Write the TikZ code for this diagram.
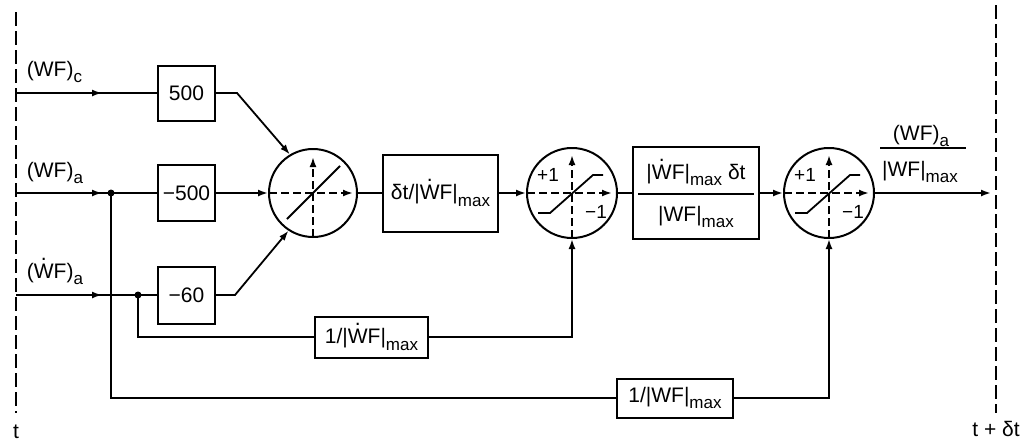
\documentclass[tikz,border=0pt]{standalone}
\usepackage{fontspec}
\setmainfont{Liberation Sans}
\usetikzlibrary{arrows.meta}
\newcommand{\Wd}{{\setbox0\hbox{W}\rlap{\hbox to \wd0{\hss\raisebox{0.85em}{.}\hss}}W}}
\newcommand{\lsub}[1]{\raisebox{-0.3em}{\fontsize{17}{17}\selectfont #1}}
\begin{document}
\begin{tikzpicture}[x=1pt,y=-1pt, font=\fontsize{21}{23}\selectfont,
  line width=1.8pt,
  blk/.style={draw, line width=2pt, inner sep=0pt, align=center},
  sumc/.style={draw, circle, line width=2pt, inner sep=0pt},
  arr/.style={-{Latex[length=10pt,width=7pt]}},
  ax/.style={dash pattern=on 8pt off 4pt, line width=2pt},
  bnd/.style={dash pattern=on 14pt off 5pt, line width=2.4pt},
  jdot/.style={circle, fill, inner sep=0pt, minimum size=7pt},
  small/.style={font=\fontsize{19}{19}\selectfont, inner sep=0pt},
]
\useasboundingbox (0,0) rectangle (1020,442);

% time boundaries
\draw[bnd] (16,12) -- (16,413);
\draw[bnd] (996,5) -- (996,413);
\node[anchor=base] (t0) at (16,438) {t};
\node[anchor=base] (t1) at (996,436) {t + δt};

% input labels
\node[anchor=base west, inner sep=0pt] (l1) at (26,76) {(WF)\lsub{c}};
\node[anchor=base west, inner sep=0pt] (l2) at (26,177) {(WF)\lsub{a}};
\node[anchor=base west, inner sep=0pt] (l3) at (26,278) {(\Wd F)\lsub{a}};

% blocks
\node[blk, minimum width=57pt, minimum height=55pt] (b500) at (186.5,93) {500};
\node[blk, minimum width=57pt, minimum height=56pt] (bm500) at (186.5,193) {−500};
\node[blk, minimum width=57pt, minimum height=57pt] (b60) at (186.5,295) {−60};
\node[sumc, minimum size=88pt] (S1) at (313,193) {};
\node[blk, minimum width=115pt, minimum height=77pt] (D) at (440.5,193) {δt/|\Wd F|\lsub{max}};
\node[sumc, minimum size=90pt] (S2) at (572,193) {};
\node[blk, minimum width=126pt, minimum height=92pt] (B2) at (696,193) {};
\node[sumc, minimum size=90pt] (S3) at (829,193) {};
\node[blk, minimum width=113pt, minimum height=41pt] (F1) at (371.5,337) {1/|\Wd F|\lsub{max}};
\node[blk, minimum width=116pt, minimum height=39pt] (F2) at (675,398) {1/|WF|\lsub{max}};

% B2 contents
\node[anchor=base, inner sep=0pt] (B2n) at (696,179) {|\Wd F|\lsub{max} δt};
\node[anchor=base, inner sep=0pt] (B2d) at (696,221) {|WF|\lsub{max}};
\draw (638,194) -- (754,194);

% output label
\node[anchor=base, inner sep=0pt] (on) at (921,140) {(WF)\lsub{a}};
\draw (880,148) -- (966,148);
\node[anchor=base, inner sep=0pt] (od) at (920,176) {|WF|\lsub{max}};

% circle interiors
\begin{scope}[shift={(S1.center)}]
  \draw[ax,arr] (-44,0) -- (40,0);
  \draw[ax,arr] (0,44) -- (0,-36);
  \draw (-26,26) -- (27,-27);
\end{scope}
\foreach \c/\n in {S2/a,S3/b}{
\begin{scope}[shift={(\c.center)}]
  \draw[ax,arr] (-45,0) -- (40,0);
  \draw[ax,arr] (0,45) -- (0,-38);
  \draw (-34,20) -- (-22,20) -- (21,-18) -- (31,-18);
  \node[small] (p\n) at (-24,-18) {+1};
  \node[small] (m\n) at (24,19) {−1};
\end{scope}}

% coordinates
\coordinate (i1) at (16,93);  \coordinate (a1) at (102,93);
\coordinate (i2) at (16,193); \coordinate (a2) at (102,193);
\coordinate (i3) at (16,295); \coordinate (a3) at (102,295);
\coordinate (j2) at (111,193);
\coordinate (j3) at (138,295);
\coordinate (k1) at (237,93);
\coordinate (k3) at (235,295);
\coordinate (c2) at (111,398);
\coordinate (c3) at (138,337);
\coordinate (c4) at (829,398);
\coordinate (c5) at (572,337);
\coordinate (out) at (991,193);

% inputs
\draw (i1) -- (b500);
\draw[arr] (i1) -- (a1);
\draw (i2) -- (bm500);
\draw[arr] (i2) -- (a2);
\draw (i3) -- (b60);
\draw[arr] (i3) -- (a3);

% into summer
\draw[arr] (b500.east) -- (k1) -- (S1.121);
\draw[arr] (bm500) -- (S1);
\draw[arr] (b60.east) -- (k3) -- (S1.237);

% main chain
\draw (S1) -- (D);
\draw[arr] (D) -- (S2);
\draw (S2) -- (B2);
\draw[arr] (B2) -- (S3);
\draw[arr] (S3) -- (out);

% feedforward paths
\draw (j3) -- (c3) -- (F1);
\draw[arr] (F1) -- (c5) -- (S2.south);
\draw (j2) -- (c2) -- (F2);
\draw[arr] (F2) -- (c4) -- (S3.south);

\node[jdot] (d2) at (j2) {};
\node[jdot] (d3) at (j3) {};
\end{tikzpicture}
\end{document}
